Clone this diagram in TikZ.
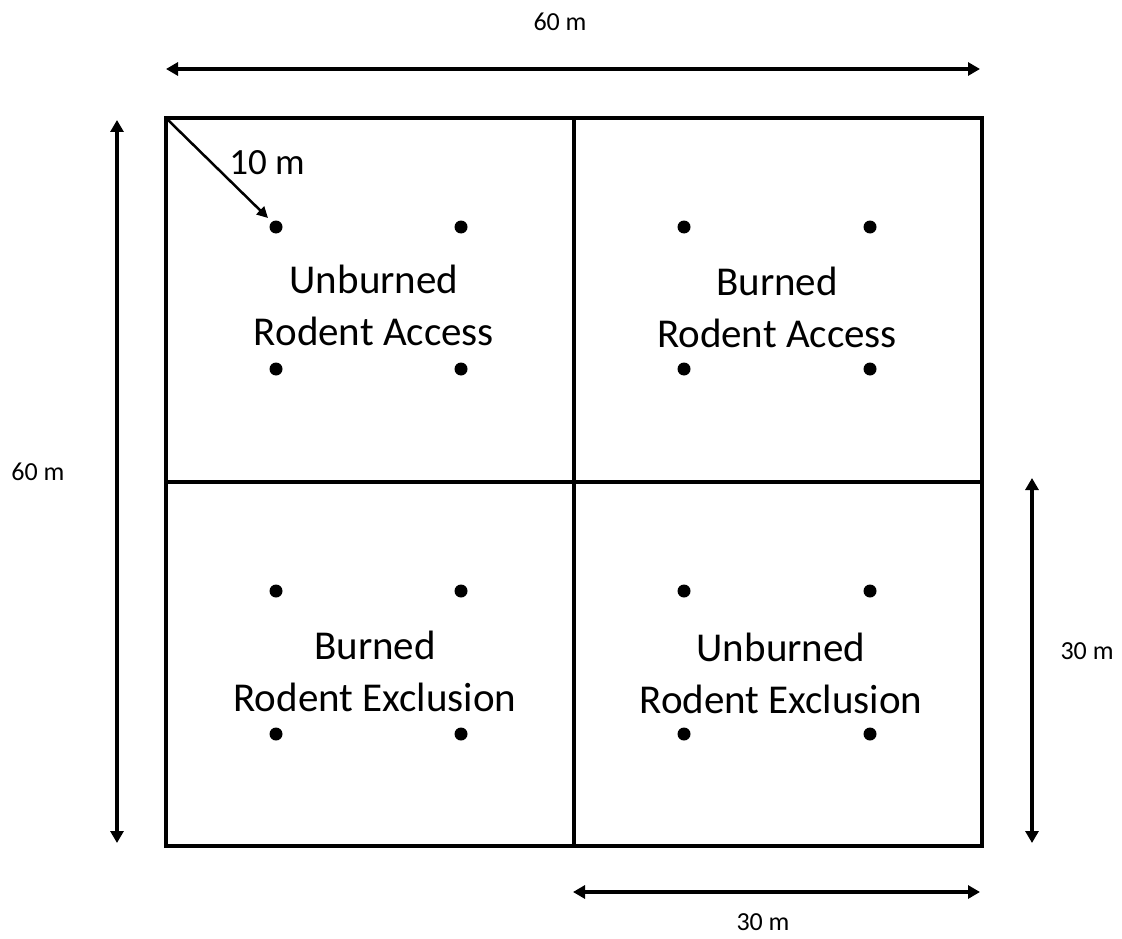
\documentclass[tikz,border=0pt]{standalone}
\usepackage{fontspec}
\setmainfont{Carlito}
\usetikzlibrary{arrows.meta}
\begin{document}
\begin{tikzpicture}[x=1pt,y=-1pt,
  frame/.style={line width=4pt},
  dim/.style={line width=3.5pt,{Triangle[length=12pt,width=13pt]}-{Triangle[length=12pt,width=13pt]}},
  plot/.style={circle,fill=black,inner sep=0pt,minimum size=13pt},
  lab/.style={font=\fontsize{41}{52}\selectfont,align=center,inner sep=0pt},
  small/.style={font=\fontsize{26}{30}\selectfont,inner sep=0pt}]
\useasboundingbox (0,0) rectangle (1122,939);
% frame
\coordinate (tl) at (166,118);
\coordinate (br) at (982,846);
\draw[frame] (tl) rectangle (br);
\coordinate (mt) at (574,118);
\coordinate (mb) at (574,846);
\coordinate (ml) at (166,482);
\coordinate (mr) at (982,482);
\draw[frame] (mt) -- (mb);
\draw[frame] (ml) -- (mr);
% plot dots
\foreach \x/\y [count=\i] in {276/227,461/227,276/369,461/369,684/227,870/227,684/369,870/369,276/591,461/591,276/734,461/734,684/591,870/591,684/734,870/734}
  \node[plot] (d\i) at (\x,\y) {};
% labels
\node[lab] (q1) at (374,305) {Unburned\\Rodent Access};
\node[lab] (q2) at (777,307) {Burned\\Rodent Access};
\node[lab] (q3) at (375,671) {Burned\\Rodent Exclusion};
\node[lab] (q4) at (781,673) {Unburned\\Rodent Exclusion};
% dimensions
\coordinate (a1) at (166,69);
\coordinate (a2) at (980,69);
\draw[dim] (a1) -- (a2);
\node[small] (t60) at (560,22) {60 m};
\coordinate (b1) at (117,120);
\coordinate (b2) at (117,843);
\draw[dim] (b1) -- (b2);
\node[small] (l60) at (38,472) {60 m};
\coordinate (c1) at (1032,478);
\coordinate (c2) at (1032,843);
\draw[dim] (c1) -- (c2);
\node[small] (r30) at (1087,651) {30 m};
\coordinate (e1) at (573,892);
\coordinate (e2) at (980,892);
\draw[dim] (e1) -- (e2);
\node[small] (b30) at (763,922) {30 m};
% 10 m diagonal
\coordinate (corner) at (168,120);
\draw[line width=2.5pt,-{Triangle[length=11pt,width=11pt]}] (corner) -- (268,218);
\node[font=\fontsize{37}{42}\selectfont,inner sep=0pt] (ten) at (267,163) {10 m};
\end{tikzpicture}
\end{document}
